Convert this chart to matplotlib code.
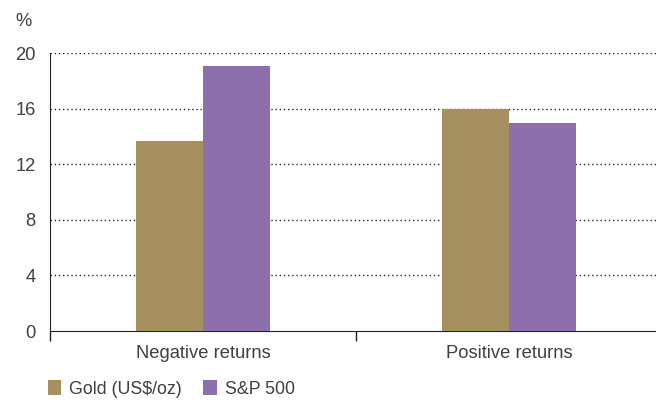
import matplotlib.pyplot as plt
import numpy as np
from matplotlib.patches import Patch

# data
categories = ["Negative returns", "Positive returns"]
gold = [13.7, 16.0]
sp500 = [19.1, 15.0]
series_labels = ["Gold (US\\$/oz)", "S&P 500"]
yticks = [0, 4, 8, 12, 16, 20]

gold_color = "#a69060"
sp_color = "#8e6fae"
text_color = "#404040"

plt.rcParams["font.family"] = ["Liberation Sans", "DejaVu Sans"]
fs = 13.2

fig = plt.figure(figsize=(6.56, 4.01), dpi=100)
ax = fig.add_axes([50 / 656, 1 - 331 / 401, 606 / 656, (331 - 53) / 401])

x = np.arange(len(categories))
w = 0.22
ax.bar(x - w / 2, gold, width=w, color=gold_color, zorder=3)
ax.bar(x + w / 2, sp500, width=w, color=sp_color, zorder=3)

ax.set_xlim(-0.5, -0.5 + 606 / 306)
ax.set_ylim(0, 20)

# dotted gridlines
for y in yticks[1:]:
    ax.axhline(y, color="#222222", linestyle=(0, (1, 2)), linewidth=1.0, zorder=1)

ax.set_yticks(yticks)
ax.tick_params(axis="y", length=0, pad=10.5, labelsize=fs, labelcolor=text_color)
ax.set_xticks(x)
ax.set_xticklabels(categories)
ax.tick_params(axis="x", which="major", length=0, pad=10, labelsize=fs, labelcolor=text_color)
ax.set_xticks([-0.5, 0.5], minor=True)
ax.tick_params(axis="x", which="minor", length=7, width=1, direction="out", color="#222222")

for s in ["top", "right"]:
    ax.spines[s].set_visible(False)
ax.spines["left"].set_color("#222222")
ax.spines["bottom"].set_color("#222222")

fig.text(15 / 656, 1 - 21 / 401, "%", fontsize=fs, color=text_color, va="center", ha="left")

handles = [Patch(facecolor=gold_color, label=series_labels[0]),
           Patch(facecolor=sp_color, label=series_labels[1])]
fig.legend(handles=handles, loc="lower left", bbox_to_anchor=(32 / 656, -0.032),
           ncol=2, frameon=False, fontsize=12.8, handlelength=0.75, handleheight=0.9,
           handletextpad=0.45, columnspacing=1.2, labelcolor=text_color)

fig.savefig("out.png", dpi=100)
